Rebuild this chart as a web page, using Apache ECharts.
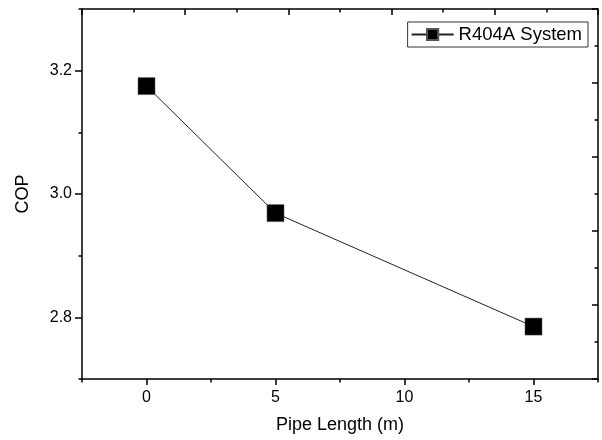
<!DOCTYPE html>
<html>
<head>
<meta charset="utf-8">
<script src="https://cdn.jsdelivr.net/npm/echarts@6/dist/echarts.min.js"></script>
<style>
  html, body { margin: 0; padding: 0; background: #fff; }
  #chart { width: 602px; height: 440px; }
</style>
</head>
<body>
<div id="chart"></div>
<script>
// data
const pipeLength = [0, 5, 15];
const copValues = [3.175, 2.969, 2.785];
const seriesName = 'R404A System';
const xTicks = [0, 5, 10, 15];
const yTicks = [2.8, 3.0, 3.2];

const font = 'Liberation Sans, Arial, sans-serif';
const black = '#000';

const chart = echarts.init(document.getElementById('chart'));

const option = {
    animation: false,
    grid: {
        left: 82,
        top: 9,
        right: 4,
        bottom: 61
    },
    legend: {
        data: [seriesName],
        right: 14,
        top: 22,
        orient: 'vertical',
        borderColor: '#333',
        borderWidth: 1,
        borderRadius: 0,
        padding: [3, 6, 3, 3],
        itemWidth: 42,
        itemHeight: 14,
        textStyle: { fontFamily: font, fontSize: 18.5, color: black }
    },
    xAxis: [
        {
            // bottom axis with labels
            type: 'value',
            position: 'bottom',
            min: -2.5,
            max: 17.5,
            splitLine: { show: false },
            axisLine: { onZero: false, lineStyle: { color: black, width: 1.5 } },
            axisTick: { customValues: xTicks, length: 6, lineStyle: { color: black, width: 1.5 } },
            axisLabel: { customValues: xTicks, fontFamily: font, fontSize: 16, color: black, margin: 11 },
            name: 'Pipe Length (m)',
            nameLocation: 'middle',
            nameGap: 37,
            nameTextStyle: { fontFamily: font, fontSize: 18, color: black }
        },
        {
            // bottom minor ticks
            type: 'value',
            position: 'bottom',
            min: -2.5,
            max: 17.5,
            interval: 2.5,
            splitLine: { show: false },
            axisLine: { show: false, onZero: false },
            axisTick: { length: 3.5, lineStyle: { color: black, width: 1.5 } },
            axisLabel: { show: false }
        },
        {
            // top frame
            type: 'value',
            position: 'top',
            min: -2.5,
            max: 17.5,
            interval: 4,
            splitLine: { show: false },
            axisLine: { onZero: false, lineStyle: { color: black, width: 1.5 } },
            axisTick: { inside: true, length: 6, lineStyle: { color: black, width: 1.5 } },
            minorTick: { show: true, splitNumber: 2, length: 3.5, lineStyle: { color: black, width: 1.5 } },
            axisLabel: { show: false }
        }
    ],
    yAxis: [
        {
            type: 'value',
            position: 'left',
            min: 2.7,
            max: 3.3,
            splitLine: { show: false },
            axisLine: { onZero: false, lineStyle: { color: black, width: 1.5 } },
            axisTick: { customValues: yTicks, length: 7, lineStyle: { color: black, width: 1.5 } },
            axisLabel: {
                customValues: yTicks,
                fontFamily: font,
                fontSize: 16,
                color: black,
                margin: 10,
                formatter: v => v.toFixed(1)
            },
            name: 'COP',
            nameLocation: 'middle',
            nameGap: 50,
            nameTextStyle: { fontFamily: font, fontSize: 18, color: black }
        },
        {
            // left minor ticks
            type: 'value',
            position: 'left',
            min: 2.7,
            max: 3.3,
            interval: 0.1,
            splitLine: { show: false },
            axisLine: { show: false, onZero: false },
            axisTick: { length: 3.5, lineStyle: { color: black, width: 1.5 } },
            axisLabel: { show: false }
        },
        {
            // right frame
            type: 'value',
            position: 'right',
            min: 2.7,
            max: 3.3,
            interval: 0.12,
            splitLine: { show: false },
            axisLine: { onZero: false, lineStyle: { color: black, width: 1.5 } },
            axisTick: { inside: true, length: 6, lineStyle: { color: black, width: 1.5 } },
            minorTick: { show: true, splitNumber: 2, length: 3.5, lineStyle: { color: black, width: 1.5 } },
            axisLabel: { show: false }
        }
    ],
    series: [
        {
            name: seriesName,
            type: 'line',
            xAxisIndex: 0,
            yAxisIndex: 0,
            data: pipeLength.map((x, i) => [x, copValues[i]]),
            symbol: 'rect',
            symbolSize: 17,
            itemStyle: { color: black, borderColor: '#555', borderWidth: 0.5 },
            lineStyle: { color: '#222', width: 1 }
        }
    ]
};
chart.setOption(option);
</script>
</body>
</html>
